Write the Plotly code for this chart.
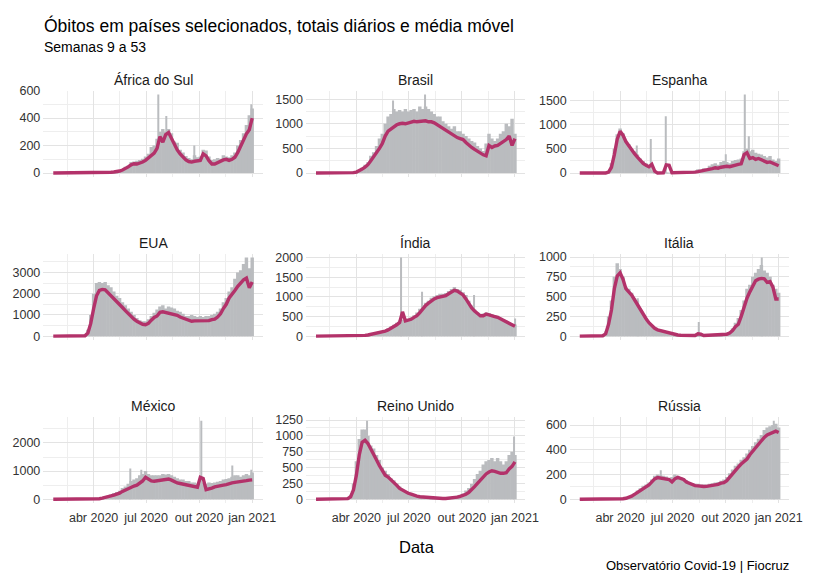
import pandas as pd
import plotly.graph_objects as go

# 5-day grid of readings, first point 22 Jan 2020
START = "2020-01-22"
STEP_DAYS = 5
N_POINTS = 70

COUNTRIES = ["África do Sul", "Brasil", "Espanha",
             "EUA", "Índia", "Itália",
             "México", "Reino Unido", "Rússia"]
Y_DTICK = [200, 500, 500, 1000, 500, 250, 1000, 250, 200]

TICK_DATES = ["2020-04-01", "2020-07-01", "2020-10-01", "2021-01-01"]
TICK_TEXT = ["abr 2020", "jul 2020", "out 2020", "jan 2021"]
MINOR_DATES = ["2020-02-15", "2020-05-16", "2020-08-16", "2020-11-16"]

# daily totals (bars) and moving average (line), one value per 5 days
AFRICA_DAILY = [0, 0, 0, 0, 0, 0, 0, 0, 0, 0,
                0, 0, 0, 0, 2, 3, 3, 5, 6, 8,
                9, 12, 14, 20, 30, 45, 55, 80, 85, 90,
                95, 105, 120, 140, 190, 200, 250, 300, 320, 300,
                320, 290, 230, 220, 170, 150, 125, 110, 100, 130,
                115, 120, 170, 165, 120, 95, 100, 110, 105, 130,
                120, 115, 130, 150, 200, 240, 290, 350, 420, 470]
AFRICA_MA = [0, 0, 0, 0, 0, 0, 0, 0, 0, 0,
             0, 0, 0, 0, 0, 1, 2, 3, 4, 5,
             6, 8, 10, 15, 22, 32, 45, 60, 68, 66,
             70, 80, 92, 110, 130, 145, 180, 265, 225, 280,
             295, 250, 200, 168, 140, 115, 96, 84, 80, 86,
             86, 92, 140, 125, 90, 66, 66, 78, 84, 96,
             100, 92, 100, 115, 150, 195, 245, 285, 315, 400]
AFRICA_SPIKES = [("2020-07-22", 572), ("2020-08-05", 415),
                 ("2020-09-23", 200), ("2020-12-30", 500)]

BRASIL_DAILY = [0, 0, 0, 0, 0, 0, 0, 0, 0, 0,
                0, 0, 5, 15, 30, 60, 110, 170, 220, 350,
                420, 550, 700, 800, 1000, 1150, 1200, 1300, 1250, 1280,
                1250, 1300, 1250, 1280, 1300, 1250, 1350, 1300, 1350, 1300,
                1250, 1200, 1150, 1150, 1050, 1000, 950, 900, 950, 850,
                850, 800, 750, 700, 650, 620, 550, 500, 450, 600,
                800, 700, 650, 700, 800, 850, 1000, 950, 1100, 800]
BRASIL_MA = [0, 0, 0, 0, 0, 0, 0, 0, 0, 0,
             0, 0, 2, 8, 20, 45, 80, 120, 170, 250,
             330, 400, 500, 600, 750, 850, 900, 950, 980, 1000,
             1010, 1000, 1020, 1030, 1050, 1040, 1050, 1060, 1060, 1040,
             1040, 1020, 980, 960, 900, 860, 820, 790, 760, 720,
             700, 680, 620, 560, 520, 480, 440, 420, 370, 350,
             560, 520, 550, 560, 600, 650, 680, 750, 560, 700]
BRASIL_SPIKES = [("2020-06-04", 1470), ("2020-07-29", 1595)]

ESPANHA_DAILY = [0, 0, 0, 0, 0, 0, 0, 0, 0, 5,
                 40, 200, 500, 800, 920, 820, 650, 600, 500, 450,
                 380, 300, 250, 200, 150, 60, 20, 0, 0, 0,
                 10, 10, 10, 10, 10, 10, 10, 20, 20, 30,
                 50, 80, 70, 100, 90, 150, 180, 200, 170, 230,
                 250, 230, 200, 250, 270, 280, 300, 450, 500, 450,
                 480, 420, 400, 380, 350, 320, 350, 280, 250, 300]
ESPANHA_MA = [0, 0, 0, 0, 0, 0, 0, 0, 0, 2,
              20, 120, 380, 700, 860, 780, 650, 560, 480, 400,
              330, 260, 200, 160, 130, 180, 40, 0, 0, 5,
              170, 160, 5, 5, 5, 5, 5, 8, 10, 15,
              20, 30, 40, 55, 60, 70, 90, 110, 100, 120,
              130, 140, 130, 150, 160, 180, 190, 380, 420, 300,
              320, 280, 300, 270, 240, 220, 230, 200, 170, 150]
ESPANHA_SPIKES = [("2020-04-30", 570), ("2020-05-24", 700), ("2020-06-19", 1170),
                  ("2020-10-01", 390), ("2020-11-04", 1620), ("2020-11-11", 760)]

EUA_DAILY = [0, 0, 0, 0, 0, 0, 0, 0, 0, 5,
             10, 40, 300, 1000, 2000, 2500, 2550, 2500, 2550, 2400,
             2300, 2100, 1900, 1800, 1600, 1450, 1300, 1150, 1000, 850,
             750, 700, 700, 800, 950, 1100, 1250, 1400, 1450, 1300,
             1400, 1350, 1300, 1200, 1150, 1050, 950, 950, 1000, 950,
             900, 950, 900, 950, 950, 1000, 1050, 1150, 1300, 1600,
             1800, 2100, 2300, 2700, 3000, 3100, 3400, 3700, 3200, 3700]
EUA_MA = [0, 0, 0, 0, 0, 0, 0, 0, 0, 2,
          5, 20, 150, 600, 1300, 1900, 2150, 2200, 2180, 2050,
          1900, 1750, 1620, 1500, 1350, 1200, 1050, 930, 800, 700,
          620, 560, 540, 600, 750, 880, 950, 1120, 1150, 1120,
          1100, 1080, 1050, 980, 900, 850, 800, 730, 700, 720,
          720, 700, 700, 720, 730, 780, 800, 900, 1050, 1300,
          1500, 1800, 1950, 2150, 2350, 2500, 2650, 2730, 2280, 2550]
EUA_SPIKES = []

INDIA_DAILY = [0, 0, 0, 0, 0, 0, 0, 0, 0, 0,
               0, 0, 0, 0, 5, 8, 15, 30, 40, 60,
               75, 100, 120, 140, 160, 200, 250, 290, 340, 400,
               420, 430, 440, 480, 530, 600, 700, 780, 850, 900,
               980, 1020, 1050, 1080, 1080, 1100, 1150, 1200, 1250, 1200,
               1180, 1120, 1050, 900, 780, 680, 600, 560, 580, 600,
               590, 560, 540, 520, 470, 430, 390, 350, 310, 300]
INDIA_MA = [0, 0, 0, 0, 0, 0, 0, 0, 0, 0,
            0, 0, 0, 0, 3, 5, 10, 20, 30, 45,
            60, 80, 95, 110, 130, 160, 200, 240, 290, 350,
            620, 390, 400, 430, 480, 520, 600, 700, 780, 840,
            900, 950, 980, 1000, 1000, 1030, 1080, 1120, 1170, 1150,
            1100, 1050, 950, 820, 720, 640, 570, 520, 520, 560,
            540, 510, 500, 480, 440, 400, 360, 320, 290, 250]
INDIA_SPIKES = [("2020-06-17", 2003), ("2020-07-24", 1130),
                ("2020-10-22", 1050), ("2021-01-02", 450)]

ITALIA_DAILY = [0, 0, 0, 0, 0, 0, 0, 5, 10, 60,
                250, 450, 750, 920, 850, 750, 620, 600, 550, 480,
                450, 350, 280, 230, 180, 140, 110, 90, 80, 70,
                50, 40, 30, 25, 20, 15, 15, 12, 12, 12,
                12, 15, 10, 12, 15, 15, 18, 20, 25, 25,
                28, 30, 55, 100, 170, 230, 330, 450, 600, 650,
                750, 800, 850, 900, 830, 800, 750, 650, 600, 550]
ITALIA_MA = [0, 0, 0, 0, 0, 0, 0, 2, 5, 30,
             150, 330, 600, 760, 800, 720, 600, 560, 520, 460,
             400, 330, 260, 220, 170, 130, 100, 80, 70, 55,
             45, 35, 25, 20, 15, 12, 10, 8, 8, 8,
             8, 30, 25, 8, 10, 10, 12, 15, 18, 20,
             22, 25, 40, 70, 120, 150, 250, 370, 480, 560,
             640, 700, 720, 730, 725, 680, 690, 620, 470, 470]
ITALIA_SPIKES = [("2020-05-01", 480), ("2020-08-15", 180), ("2020-12-03", 993)]

MEXICO_DAILY = [0, 0, 0, 0, 0, 0, 0, 0, 0, 0,
                0, 0, 0, 0, 10, 20, 40, 60, 100, 130,
                170, 220, 260, 300, 400, 450, 550, 650, 700, 750,
                850, 900, 1000, 900, 850, 850, 850, 850, 900, 880,
                900, 850, 800, 750, 700, 700, 650, 650, 600, 600,
                550, 550, 600, 550, 600, 580, 600, 620, 650, 700,
                720, 750, 800, 850, 850, 800, 850, 900, 850, 950]
MEXICO_MA = [0, 0, 0, 0, 0, 0, 0, 0, 0, 0,
             0, 0, 0, 0, 5, 10, 20, 40, 60, 90,
             120, 150, 180, 220, 280, 330, 400, 450, 470, 500,
             580, 650, 780, 720, 650, 640, 650, 660, 680, 700,
             720, 680, 620, 580, 560, 540, 510, 490, 470, 460,
             430, 780, 740, 340, 360, 400, 440, 450, 480, 500,
             520, 560, 580, 600, 610, 620, 640, 660, 680, 690]
MEXICO_SPIKES = [("2020-06-03", 1090), ("2020-06-23", 1050), ("2020-10-05", 2789),
                 ("2020-11-28", 1200), ("2020-12-31", 1050)]

REINO_DAILY = [0, 0, 0, 0, 0, 0, 0, 0, 0, 0,
               5, 20, 60, 250, 600, 950, 1100, 1100, 1000, 850,
               800, 700, 620, 500, 450, 400, 330, 300, 250, 200,
               160, 130, 110, 90, 80, 65, 60, 50, 40, 40,
               30, 20, 18, 18, 18, 20, 25, 35, 40, 60,
               70, 90, 140, 180, 240, 320, 400, 450, 550, 600,
               620, 650, 600, 650, 600, 550, 600, 700, 750, 700]
REINO_MA = [0, 0, 0, 0, 0, 0, 0, 0, 0, 0,
            2, 10, 40, 150, 380, 700, 900, 930, 880, 800,
            720, 620, 530, 450, 380, 350, 310, 270, 220, 170,
            140, 110, 95, 80, 60, 50, 40, 35, 30, 25,
            20, 15, 12, 12, 12, 12, 15, 20, 25, 35,
            45, 60, 80, 110, 150, 200, 250, 300, 350, 400,
            430, 450, 440, 420, 410, 410, 420, 480, 520, 590]
REINO_SPIKES = [("2020-04-20", 1240), ("2020-12-30", 990)]

RUSSIA_DAILY = [0, 0, 0, 0, 0, 0, 0, 0, 0, 0,
                0, 0, 0, 0, 2, 6, 12, 20, 35, 50,
                70, 90, 110, 120, 135, 160, 190, 200, 195, 190,
                185, 175, 180, 200, 190, 180, 170, 155, 140, 130,
                125, 125, 120, 120, 120, 125, 130, 135, 140, 150,
                160, 180, 210, 240, 270, 290, 320, 340, 370, 400,
                430, 460, 490, 520, 560, 580, 590, 600, 610, 580]
RUSSIA_MA = [0, 0, 0, 0, 0, 0, 0, 0, 0, 0,
             0, 0, 0, 0, 2, 4, 8, 15, 25, 40,
             55, 75, 90, 100, 115, 140, 165, 175, 170, 170,
             165, 160, 140, 165, 177, 168, 160, 140, 130, 115,
             110, 108, 104, 103, 104, 108, 112, 115, 120, 130,
             135, 150, 180, 205, 235, 260, 285, 305, 325, 360,
             390, 420, 450, 480, 500, 520, 530, 545, 550, 540]
RUSSIA_SPIKES = [("2020-06-11", 235), ("2020-12-24", 635)]

DAILY = [AFRICA_DAILY, BRASIL_DAILY, ESPANHA_DAILY, EUA_DAILY, INDIA_DAILY,
         ITALIA_DAILY, MEXICO_DAILY, REINO_DAILY, RUSSIA_DAILY]
MOVING = [AFRICA_MA, BRASIL_MA, ESPANHA_MA, EUA_MA, INDIA_MA,
          ITALIA_MA, MEXICO_MA, REINO_MA, RUSSIA_MA]
SPIKES = [AFRICA_SPIKES, BRASIL_SPIKES, ESPANHA_SPIKES, EUA_SPIKES, INDIA_SPIKES,
          ITALIA_SPIKES, MEXICO_SPIKES, REINO_SPIKES, RUSSIA_SPIKES]

BAR_COLOR = "#babcbf"
LINE_COLOR = "#b3326a"
GRID = "#e3e3e3"
GRID_MINOR = "#eeeeee"
FONT = "Liberation Sans, Arial, sans-serif"
TEXT = "#333333"

W, H = 816, 575
COL_X = [(44, 267), (311, 534), (579, 802)]
ROW_Y = [(85, 173), (251, 339), (417, 505)]
X_RANGE = ["2020-01-04 17:00", "2021-01-19 07:00"]
DAY_MS = 86400000

dates = pd.date_range(START, periods=N_POINTS, freq=f"{STEP_DAYS}D")

fig = go.Figure()
layout = {}
annotations = []

for i, name in enumerate(COUNTRIES):
    row, col = divmod(i, 3)
    ax = "" if i == 0 else str(i + 1)
    x0, x1 = COL_X[col]
    y0, y1 = ROW_Y[row]

    # bars a little wider than the step so neighbours overlap (no seams)
    fig.add_trace(go.Bar(
        x=dates, y=DAILY[i], width=STEP_DAYS * 1.2 * DAY_MS,
        marker=dict(color=BAR_COLOR, line=dict(width=0)),
        xaxis="x" + ax, yaxis="y" + ax, hoverinfo="skip",
    ))
    if SPIKES[i]:
        fig.add_trace(go.Bar(
            x=[d for d, _ in SPIKES[i]], y=[v for _, v in SPIKES[i]],
            width=2 * DAY_MS,
            marker=dict(color=BAR_COLOR, line=dict(width=0)),
            xaxis="x" + ax, yaxis="y" + ax, hoverinfo="skip",
        ))
    fig.add_trace(go.Scatter(
        x=dates, y=MOVING[i], mode="lines",
        line=dict(color=LINE_COLOR, width=3.4),
        xaxis="x" + ax, yaxis="y" + ax,
    ))

    top = max(DAILY[i] + [v for _, v in SPIKES[i]])
    bottom_row = row == 2

    layout["xaxis" + ax] = dict(
        domain=[x0 / W, x1 / W], anchor="y" + ax, type="date",
        range=X_RANGE, tickmode="array", tickvals=TICK_DATES,
        ticktext=TICK_TEXT, showticklabels=bottom_row,
        tickfont=dict(size=12.5, color=TEXT), ticklabelstandoff=5,
        showgrid=True, gridcolor=GRID, gridwidth=1, zeroline=False,
        showline=False, ticks="",
        minor=dict(tickmode="array", tickvals=MINOR_DATES,
                   showgrid=True, gridcolor=GRID_MINOR, gridwidth=0.8),
    )
    layout["yaxis" + ax] = dict(
        domain=[1 - y1 / H, 1 - y0 / H], anchor="x" + ax,
        range=[-0.05 * top, 1.05 * top],
        tickmode="linear", tick0=0, dtick=Y_DTICK[i],
        tickfont=dict(size=12.5, color=TEXT), ticklabelstandoff=2,
        showgrid=True, gridcolor=GRID, gridwidth=1, zeroline=False,
        showline=False, ticks="",
        minor=dict(tick0=0, dtick=Y_DTICK[i] / 2, showgrid=True,
                   gridcolor=GRID_MINOR, gridwidth=0.8),
    )
    annotations.append(dict(
        text=name, x=(x0 + x1) / 2 / W, y=1 - (y0 - 11) / H,
        xref="paper", yref="paper", xanchor="center", yanchor="middle",
        showarrow=False, font=dict(size=14, color="#1a1a1a"),
    ))

annotations += [
    dict(text="Óbitos em países selecionados, totais diários e média móvel",
         x=43 / W, y=1 - 19 / H, xref="paper", yref="paper",
         xanchor="left", yanchor="middle", showarrow=False,
         font=dict(size=17.5, color="black")),
    dict(text="Semanas 9 a 53", x=43 / W, y=1 - 41 / H,
         xref="paper", yref="paper", xanchor="left", yanchor="middle",
         showarrow=False, font=dict(size=14, color="black")),
    dict(text="Data", x=424 / W, y=1 - 550 / H, xref="paper", yref="paper",
         xanchor="center", yanchor="middle", showarrow=False,
         font=dict(size=16.5, color="black")),
    dict(text="Observatório Covid-19 | Fiocruz", x=804 / W, y=1 - 568 / H,
         xref="paper", yref="paper", xanchor="right", yanchor="middle",
         showarrow=False, font=dict(size=13, color="black")),
]

fig.update_layout(
    **layout,
    annotations=annotations,
    width=W, height=H,
    margin=dict(l=0, r=0, t=0, b=0),
    paper_bgcolor="white", plot_bgcolor="white",
    showlegend=False, barmode="overlay",
    font=dict(family=FONT),
)

fig.write_html(
    "out.html",
    config={"displayModeBar": False},
    post_script="document.body.style.margin='0';document.body.style.overflow='hidden';",
)
